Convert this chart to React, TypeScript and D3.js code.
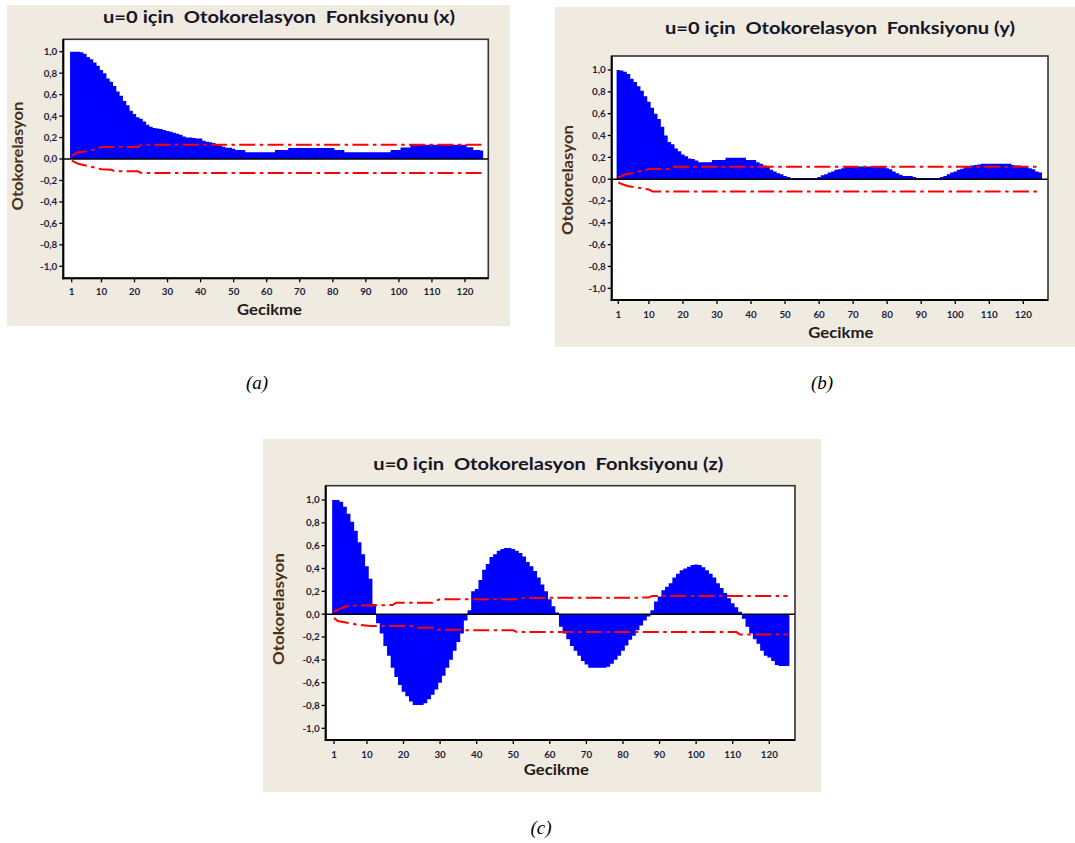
import React from 'react';
import * as d3 from 'd3';

// Lag categories and axis ticks
const lags = d3.range(1, 126);
const xTicks = [1, 10, 20, 30, 40, 50, 60, 70, 80, 90, 100, 110, 120];
const yTicks = [1, 0.8, 0.6, 0.4, 0.2, 0, -0.2, -0.4, -0.6, -0.8, -1];
const yTickLabels = ['1,0', '0,8', '0,6', '0,4', '0,2', '0,0', '-0,2', '-0,4', '-0,6', '-0,8', '-1,0'];

// Autocorrelation values, lags 1..125
const acfX = [
  1.0, 1.0, 1.0, 0.995, 0.98, 0.95, 0.93, 0.9, 0.87, 0.83,
  0.8, 0.75, 0.72, 0.68, 0.63, 0.59, 0.54, 0.5, 0.45, 0.42,
  0.39, 0.375, 0.35, 0.32, 0.3, 0.29, 0.285, 0.28, 0.27, 0.26,
  0.255, 0.245, 0.235, 0.225, 0.21, 0.2, 0.2, 0.195, 0.19, 0.19,
  0.17, 0.16, 0.155, 0.15, 0.135, 0.125, 0.115, 0.105, 0.105, 0.095,
  0.085, 0.085, 0.085, 0.062, 0.062, 0.062, 0.062, 0.062, 0.062, 0.062,
  0.062, 0.062, 0.084, 0.084, 0.084, 0.084, 0.102, 0.102, 0.102, 0.102,
  0.102, 0.102, 0.102, 0.102, 0.102, 0.102, 0.102, 0.102, 0.102, 0.102,
  0.084, 0.084, 0.084, 0.062, 0.062, 0.062, 0.062, 0.062, 0.062, 0.062,
  0.062, 0.062, 0.062, 0.062, 0.062, 0.062, 0.062, 0.084, 0.084, 0.084,
  0.108, 0.108, 0.108, 0.133, 0.133, 0.133, 0.133, 0.133, 0.133, 0.133,
  0.133, 0.133, 0.133, 0.133, 0.133, 0.133, 0.133, 0.133, 0.133, 0.133,
  0.11, 0.11, 0.084, 0.084, 0.08,
];

const acfY = [
  1.0, 0.995, 0.985, 0.963, 0.92, 0.89, 0.85, 0.81, 0.76, 0.71,
  0.655, 0.6, 0.55, 0.48, 0.4, 0.34, 0.32, 0.28, 0.255, 0.225,
  0.21, 0.19, 0.185, 0.17, 0.155, 0.155, 0.155, 0.155, 0.175, 0.175,
  0.175, 0.175, 0.195, 0.195, 0.195, 0.195, 0.195, 0.195, 0.175, 0.175,
  0.175, 0.155, 0.14, 0.125, 0.11, 0.085, 0.07, 0.055, 0.045, 0.03,
  0.02, 0.01, 0.01, 0.01, 0.01, 0.01, 0.01, 0.01, 0.01, 0.02,
  0.035, 0.045, 0.06, 0.07, 0.085, 0.09, 0.1, 0.115, 0.115, 0.115,
  0.115, 0.115, 0.115, 0.115, 0.115, 0.115, 0.115, 0.115, 0.115, 0.1,
  0.09, 0.07, 0.055, 0.04, 0.03, 0.03, 0.03, 0.02, 0.01, 0.01,
  0.01, 0.01, 0.01, 0.01, 0.01, 0.02, 0.03, 0.045, 0.06, 0.07,
  0.085, 0.095, 0.11, 0.12, 0.125, 0.13, 0.135, 0.14, 0.14, 0.14,
  0.14, 0.14, 0.14, 0.14, 0.14, 0.14, 0.13, 0.125, 0.125, 0.12,
  0.115, 0.1, 0.09, 0.07, 0.06,
];

const acfZ = [
  1.0, 1.0, 0.985, 0.94, 0.88, 0.81, 0.73, 0.63, 0.525, 0.42,
  0.31, 0.09, -0.08, -0.17, -0.28, -0.365, -0.47, -0.55, -0.62, -0.68,
  -0.72, -0.765, -0.795, -0.795, -0.795, -0.78, -0.745, -0.705, -0.66, -0.6,
  -0.54, -0.47, -0.4, -0.32, -0.245, -0.17, -0.055, 0.035, 0.2, 0.22,
  0.3, 0.39, 0.44, 0.5, 0.525, 0.555, 0.57, 0.58, 0.58, 0.57,
  0.555, 0.535, 0.505, 0.457, 0.42, 0.377, 0.32, 0.26, 0.2, 0.13,
  0.07, 0.015, -0.11, -0.17, -0.22, -0.28, -0.32, -0.365, -0.41, -0.44,
  -0.47, -0.47, -0.47, -0.47, -0.47, -0.46, -0.435, -0.4, -0.365, -0.32,
  -0.275, -0.225, -0.19, -0.14, -0.1, -0.055, -0.02, 0.035, 0.11, 0.155,
  0.21, 0.24, 0.27, 0.32, 0.355, 0.385, 0.4, 0.415, 0.43, 0.435,
  0.43, 0.41, 0.385, 0.355, 0.32, 0.27, 0.23, 0.185, 0.14, 0.095,
  0.06, 0.02, -0.04, -0.11, -0.17, -0.22, -0.26, -0.32, -0.365, -0.38,
  -0.41, -0.445, -0.455, -0.455, -0.455,
];

// Significance limits: [lag, value] knots for the upper and lower bounds
const limitXUpper: [number, number][] = [
  [1, 0.03], [2, 0.05], [3, 0.062], [5, 0.07], [8, 0.09], [10, 0.112], [21, 0.112], [22, 0.133], [125, 0.133],
];
const limitXLower: [number, number][] = [
  [1, -0.015], [3, -0.045], [6, -0.065], [8, -0.08], [10, -0.095], [13, -0.1], [14, -0.115], [21, -0.115], [22, -0.13], [125, -0.13],
];
const limitYUpper: [number, number][] = [
  [1, 0.015], [2, 0.03], [3, 0.045], [5, 0.055], [8, 0.077], [10, 0.092], [16, 0.092], [17, 0.114], [125, 0.114],
];
const limitYLower: [number, number][] = [
  [1, -0.03], [2, -0.045], [4, -0.065], [7, -0.08], [10, -0.095], [11, -0.114], [125, -0.114],
];
const limitZUpper: [number, number][] = [
  [1, 0.02], [2, 0.04], [4, 0.065], [6, 0.074], [17, 0.08], [18, 0.1], [28, 0.1], [29, 0.12], [30, 0.13],
  [51, 0.13], [52, 0.142], [87, 0.145], [88, 0.16], [125, 0.16],
];
const limitZLower: [number, number][] = [
  [1, -0.033], [2, -0.06], [5, -0.077], [7, -0.09], [11, -0.104], [22, -0.104], [24, -0.12], [28, -0.12],
  [29, -0.136], [36, -0.136], [37, -0.142], [50, -0.142], [51, -0.157], [111, -0.157], [112, -0.178], [125, -0.178],
];

type Layout = {
  bg: [number, number, number, number];
  plot: [number, number, number, number];
  yOne: number;
  yMinusOne: number;
  lagOneX: number;
  lag120X: number;
  titleX: number;
  titleY: number;
  titleW: number;
  xLabelX: number;
  xLabelY: number;
  tickLabelY: number;
  yTitleX: number;
  yTitleY: number;
  yTitleW: number;
};

const FONT = "Lato, 'Open Sans', 'DejaVu Sans', sans-serif";

function AcfPanel({ title, values, upper, lower, L }: {
  title: string;
  values: number[];
  upper: [number, number][];
  lower: [number, number][];
  L: Layout;
}) {
  const x = d3.scaleLinear().domain([1, 120]).range([L.lagOneX, L.lag120X]);
  const y = d3.scaleLinear().domain([-1, 1]).range([L.yMinusOne, L.yOne]);
  const step = x(2) - x(1);
  const line = d3.line<[number, number]>().x((d) => x(d[0])).y((d) => y(d[1]));
  const [left, top, right, bottom] = L.plot;
  const [bx, by, bx2, by2] = L.bg;

  // The bars touch each other, so they are drawn as one stepped area
  // (each lag spans half a step on either side of its tick).
  const barCorners: [number, number][] = [];
  values.forEach((v, i) => {
    const cx = x(lags[i]);
    barCorners.push([cx - step / 2, v], [cx + step / 2, v]);
  });
  const barArea = d3.area<[number, number]>().x((d) => d[0]).y0(y(0)).y1((d) => y(d[1]));

  return (
    <g>
      <rect x={bx} y={by} width={bx2 - bx} height={by2 - by} fill="#efebe1" />
      <rect x={left} y={top} width={right - left} height={bottom - top} fill="#ffffff" stroke="#333" strokeWidth={1.6} />
      <path d={barArea(barCorners) || ''} fill="#0000ff" />
      <line x1={left} x2={right} y1={y(0)} y2={y(0)} stroke="#000" strokeWidth={1.5} />
      {[upper, lower].map((pts, i) => (
        <path key={i} d={line(pts) || ''} fill="none" stroke="#ff0000" strokeWidth={2} strokeDasharray="16 4.5 3.5 4.3" />
      ))}
      {/* axes */}
      <line x1={left} x2={left} y1={top} y2={bottom + 1} stroke="#000" strokeWidth={2} />
      <line x1={left - 1} x2={right} y1={bottom} y2={bottom} stroke="#000" strokeWidth={2} />
      {yTicks.map((t, i) => (
        <g key={t}>
          <line x1={left - 4} x2={left} y1={y(t)} y2={y(t)} stroke="#000" strokeWidth={1.3} />
          <text x={left - 6} y={y(t)} dy="0.35em" textAnchor="end" fontFamily={FONT} fontWeight={700} fontSize={9.8} fill="#1c1c38">
            {yTickLabels[i]}
          </text>
        </g>
      ))}
      {xTicks.map((t) => (
        <g key={t}>
          <line x1={x(t)} x2={x(t)} y1={bottom} y2={bottom + 4} stroke="#000" strokeWidth={1.3} />
          <text x={x(t)} y={L.tickLabelY} textAnchor="middle" fontFamily={FONT} fontWeight={700} fontSize={9.8} fill="#1c1c38">
            {t}
          </text>
        </g>
      ))}
      <text x={L.titleX} y={L.titleY} textAnchor="middle" fontFamily={FONT} fontWeight={700} fontSize={17.5}
        fill="#151525" style={{ whiteSpace: 'pre' }} textLength={L.titleW} lengthAdjust="spacingAndGlyphs">
        {title}
      </text>
      <text x={L.xLabelX} y={L.xLabelY} textAnchor="middle" fontFamily={FONT} fontWeight={700} fontSize={15.5}
        fill="#1e1a16" textLength={65} lengthAdjust="spacingAndGlyphs">
        Gecikme
      </text>
      <text transform={`translate(${L.yTitleX},${L.yTitleY}) rotate(-90)`} textAnchor="middle" dy="0.35em"
        fontFamily={FONT} fontWeight={700} fontSize={14.5} fill="#4a3018" textLength={L.yTitleW} lengthAdjust="spacingAndGlyphs">
        Otokorelasyon
      </text>
    </g>
  );
}

const layoutA: Layout = {
  bg: [7, 5, 510, 326], plot: [63.3, 39.3, 488.3, 278.3], yOne: 51.7, yMinusOne: 266.3,
  lagOneX: 71.7, lag120X: 465, titleX: 279, titleY: 23.3, titleW: 352,
  xLabelX: 269.5, xLabelY: 315, tickLabelY: 294.5, yTitleX: 17.5, yTitleY: 156, yTitleW: 109,
};
const layoutB: Layout = {
  bg: [555, 7, 1075, 347], plot: [611.7, 56, 1048, 300], yOne: 70, yMinusOne: 288.3,
  lagOneX: 618.3, lag120X: 1023.3, titleX: 840, titleY: 33.5, titleW: 350,
  xLabelX: 840.8, xLabelY: 338, tickLabelY: 317.5, yTitleX: 567.5, yTitleY: 180, yTitleW: 110,
};
const layoutC: Layout = {
  bg: [263, 439, 821, 792], plot: [325.7, 485.7, 795, 740], yOne: 500, yMinusOne: 728.3,
  lagOneX: 334, lag120X: 769.3, titleX: 548.3, titleY: 470, titleW: 350,
  xLabelX: 556.3, xLabelY: 775, tickLabelY: 757.5, yTitleX: 279, yTitleY: 609, yTitleW: 112,
};

const captions = [
  { text: '(a)', x: 257, y: 389 },
  { text: '(b)', x: 822, y: 389 },
  { text: '(c)', x: 541, y: 834 },
];

export default function App() {
  return (
    <svg width={1075} height={843} style={{ position: 'absolute', left: 0, top: 0, background: '#fff' }}>
      <AcfPanel title="u=0 için  Otokorelasyon  Fonksiyonu (x)" values={acfX} upper={limitXUpper} lower={limitXLower} L={layoutA} />
      <AcfPanel title="u=0 için  Otokorelasyon  Fonksiyonu (y)" values={acfY} upper={limitYUpper} lower={limitYLower} L={layoutB} />
      <AcfPanel title="u=0 için  Otokorelasyon  Fonksiyonu (z)" values={acfZ} upper={limitZUpper} lower={limitZLower} L={layoutC} />
      {captions.map((c) => (
        <text key={c.text} x={c.x} y={c.y} textAnchor="middle" fontFamily="'Liberation Serif', 'Times New Roman', serif"
          fontStyle="italic" fontSize={19} fill="#000">
          {c.text}
        </text>
      ))}
    </svg>
  );
}
